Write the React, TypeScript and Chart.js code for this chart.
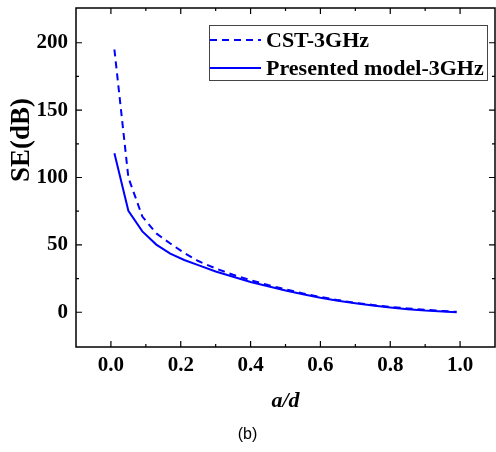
import React, { useEffect, useRef } from "react";
import { Chart, registerables } from "chart.js";

Chart.register(...registerables);

// ---- data ----
const ratio = [0.01, 0.05, 0.09, 0.13, 0.17, 0.21, 0.25, 0.3, 0.35, 0.4, 0.45, 0.5, 0.55, 0.6, 0.65, 0.7, 0.75, 0.8, 0.85, 0.9, 0.95, 0.99];
const cstSE = [195, 100, 71, 58.5, 51, 44, 38, 32.5, 27.8, 23.8, 20.2, 17, 14, 11.3, 9, 7, 5.4, 4, 2.8, 1.8, 0.9, 0.3];
const modelSE = [118, 75.3, 60, 50.2, 43.5, 38.8, 35, 30.2, 26.3, 22.5, 19.3, 16.2, 13.3, 10.8, 8.6, 6.7, 5, 3.6, 2.2, 1.2, 0.5, 0];
const seriesLabels = ["CST-3GHz", "Presented model-3GHz"];
const xTicks = [0, 0.2, 0.4, 0.6, 0.8, 1.0];
const xMinorTicks = [0.1, 0.3, 0.5, 0.7, 0.9];
const yTicks = [0, 50, 100, 150, 200];
const yMinorTicks = [25, 75, 125, 175];
const xTitle = "a/d";
const yTitle = "SE(dB)";
const caption = "(b)";

const SERIF = '"Liberation Serif", "Times New Roman", serif';
const BLUE = "#0000ff";

const framePlugin = {
  id: "frame",
  afterDatasetsDraw(chart: any) {
    const { ctx, chartArea: a, scales } = chart;
    const x = scales.x, y = scales.y;
    ctx.save();
    ctx.strokeStyle = "#000";
    ctx.lineWidth = 1.5;
    ctx.strokeRect(a.left, a.top, a.right - a.left, a.bottom - a.top);
    ctx.lineWidth = 1.2;
    const tick = (v: number, len: number) => {
      const px = x.getPixelForValue(v);
      ctx.beginPath();
      ctx.moveTo(px, a.bottom); ctx.lineTo(px, a.bottom - len);
      ctx.moveTo(px, a.top); ctx.lineTo(px, a.top + len);
      ctx.stroke();
    };
    const ytick = (v: number, len: number) => {
      const py = y.getPixelForValue(v);
      ctx.beginPath();
      ctx.moveTo(a.left, py); ctx.lineTo(a.left + len, py);
      ctx.moveTo(a.right, py); ctx.lineTo(a.right - len, py);
      ctx.stroke();
    };
    xTicks.forEach((v) => tick(v, 6));
    xMinorTicks.forEach((v) => tick(v, 3));
    yTicks.forEach((v) => ytick(v, 6));
    yMinorTicks.forEach((v) => ytick(v, 3));
    ctx.restore();
  },
};

const legendPlugin = {
  id: "insideLegend",
  afterDraw(chart: any) {
    const { ctx, chartArea: a } = chart;
    const left = a.left + 133;
    const top = a.top + 17;
    const w = 278;
    const h = 55;
    ctx.save();
    ctx.fillStyle = "#fff";
    ctx.fillRect(left, top, w, h);
    ctx.strokeStyle = "#444";
    ctx.lineWidth = 1;
    ctx.strokeRect(left + 0.5, top + 0.5, w, h);
    ctx.font = `bold 22px ${SERIF}`;
    ctx.textBaseline = "middle";
    ctx.fillStyle = "#000";
    chart.data.datasets.forEach((ds: any, i: number) => {
      const cy = top + 15 + i * 28;
      ctx.strokeStyle = ds.borderColor;
      ctx.lineWidth = ds.borderWidth;
      ctx.setLineDash(ds.borderDash || []);
      ctx.beginPath();
      ctx.moveTo(left + 1, cy);
      ctx.lineTo(left + 52, cy);
      ctx.stroke();
      ctx.setLineDash([]);
      ctx.fillText(ds.label, left + 57, cy + 1);
    });
    ctx.restore();
  },
};

const yTitlePlugin = {
  id: "yTitle",
  afterDraw(chart: any) {
    const { ctx } = chart;
    ctx.save();
    ctx.translate(22, 140);
    ctx.rotate(-Math.PI / 2);
    ctx.font = `bold 27px ${SERIF}`;
    ctx.fillStyle = "#000";
    ctx.textAlign = "center";
    ctx.textBaseline = "middle";
    ctx.fillText(yTitle, 0, 0);
    ctx.restore();
  },
};

export default function App() {
  const ref = useRef<HTMLCanvasElement | null>(null);
  useEffect(() => {
    if (!ref.current) return;
    const chart = new Chart(ref.current, {
      type: "line",
      data: {
        datasets: [
          {
            label: seriesLabels[0],
            data: ratio.map((x, i) => ({ x, y: cstSE[i] })),
            borderColor: BLUE,
            backgroundColor: BLUE,
            borderWidth: 2,
            borderDash: [7, 5],
            pointRadius: 0,
            tension: 0,
            fill: false,
          },
          {
            label: seriesLabels[1],
            data: ratio.map((x, i) => ({ x, y: modelSE[i] })),
            borderColor: BLUE,
            backgroundColor: BLUE,
            borderWidth: 2,
            pointRadius: 0,
            tension: 0,
            fill: false,
          },
        ],
      },
      options: {
        responsive: false,
        animation: false,
        layout: { padding: { top: 8, right: 1, left: 0, bottom: 0 } },
        plugins: {
          legend: { display: false },
          tooltip: { enabled: false },
          title: {
            display: true,
            text: caption,
            position: "bottom",
            color: "#000",
            font: { family: '"Liberation Sans", Arial, sans-serif', size: 16, weight: "normal" },
            padding: { top: 4, bottom: 8 },
          },
        },
        scales: {
          x: {
            type: "linear",
            min: -0.1,
            max: 1.1,
            grid: { display: false, drawTicks: false },
            border: { display: false },
            ticks: {
              color: "#000",
              padding: 6,
              font: { family: SERIF, size: 21, weight: "bold" },
              callback: (v: any) => Number(v).toFixed(1),
            },
            afterBuildTicks: (s: any) => {
              s.ticks = xTicks.map((value) => ({ value }));
            },
            afterFit: (s: any) => {
              s.height = 73.8;
              s.paddingLeft = 0;
              s.paddingRight = 0;
            },
            title: {
              display: true,
              text: xTitle,
              color: "#000",
              font: { family: SERIF, size: 22, weight: "bold", style: "italic" },
              padding: { top: 0, bottom: 6.6 },
            },
          },
          y: {
            type: "linear",
            min: -25.8,
            max: 225.8,
            grid: { display: false, drawTicks: false },
            border: { display: false },
            ticks: {
              color: "#000",
              padding: 8,
              font: { family: SERIF, size: 21, weight: "bold" },
            },
            afterBuildTicks: (s: any) => {
              s.ticks = yTicks.map((value) => ({ value }));
            },
            afterFit: (s: any) => {
              s.width = 76;
              s.paddingTop = 0;
              s.paddingBottom = 0;
            },
          },
        },
      },
      plugins: [framePlugin, legendPlugin, yTitlePlugin],
    });
    return () => chart.destroy();
  }, []);
  return (
    <div style={{ position: "absolute", left: 0, top: 0, width: 496, height: 452, background: "#fff" }}>
      <canvas ref={ref} width={496} height={452} style={{ display: "block" }} />
    </div>
  );
}
